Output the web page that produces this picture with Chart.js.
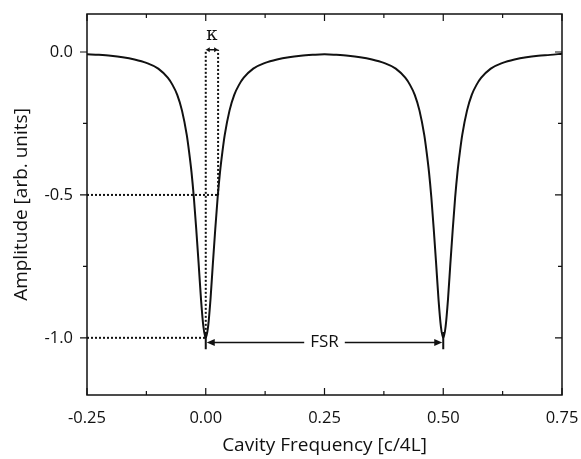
<!DOCTYPE html>
<html>
  <head>
    <title>Cavity Resonances</title>
    <script src="https://cdn.jsdelivr.net/npm/chart.js"></script>
    <style>
      body { margin: 0; background: #fff; }
    </style>
  </head>
  <body>
    <canvas id="cavityChart" width="581" height="459"></canvas>

    <script>
      // curve (frequency in c/4L, amplitude in arb. units)
      const freq = [
        -0.25, -0.225, -0.2, -0.175, -0.15, -0.125, -0.1, -0.08, -0.07, -0.06, -0.05, -0.04, -0.035, -0.03, -0.025, -0.02, -0.015, -0.01, -0.005, 0,
        0.005, 0.01, 0.015, 0.02, 0.025, 0.03, 0.035, 0.04, 0.05, 0.06, 0.07, 0.08, 0.1, 0.125, 0.15, 0.175, 0.2, 0.225, 0.25,
        0.275, 0.3, 0.325, 0.35, 0.375, 0.4, 0.42, 0.43, 0.44, 0.45, 0.46, 0.465, 0.47, 0.475, 0.48, 0.485, 0.49, 0.495, 0.5,
        0.505, 0.51, 0.515, 0.52, 0.525, 0.53, 0.535, 0.54, 0.55, 0.56, 0.57, 0.58, 0.6, 0.625, 0.65, 0.675, 0.7, 0.725, 0.75,
      ];
      const amplitude = [
        -0.008, -0.01, -0.013, -0.018, -0.026, -0.038, -0.058, -0.09, -0.115, -0.15, -0.205, -0.29, -0.35, -0.42, -0.51, -0.62, -0.74, -0.865, -0.96, -1.0,
        -0.96, -0.865, -0.74, -0.62, -0.51, -0.42, -0.35, -0.29, -0.205, -0.15, -0.115, -0.09, -0.058, -0.038, -0.026, -0.018, -0.013, -0.01, -0.008,
        -0.01, -0.013, -0.018, -0.026, -0.038, -0.058, -0.09, -0.115, -0.15, -0.205, -0.29, -0.35, -0.42, -0.51, -0.62, -0.74, -0.865, -0.96, -1.0,
        -0.96, -0.865, -0.74, -0.62, -0.51, -0.42, -0.35, -0.29, -0.205, -0.15, -0.115, -0.09, -0.058, -0.038, -0.026, -0.018, -0.013, -0.01, -0.006,
      ];

      // annotation values
      const dipCenters = [0, 0.5];
      const dipDepth = -1.0;
      const halfMaxLevel = -0.5;
      const kappa = 0.026; // half width at half maximum
      const kappaLevel = 0.008;
      const fsrLevel = -1.016;

      const xTicks = [-0.25, 0, 0.25, 0.5, 0.75];
      const xMinorTicks = [-0.125, 0.125, 0.375, 0.625];
      const yTicks = [-1.0, -0.5, 0.0];
      const yMinorTicks = [-0.75, -0.25];

      const ink = "#111";
      const fontFamily = "'Open Sans', sans-serif";

      const curve = freq.map((f, i) => ({ x: f, y: amplitude[i] }));

      function dotted(points) {
        return {
          data: points,
          showLine: true,
          borderColor: ink,
          borderWidth: 2,
          borderDash: [2, 2],
          pointRadius: 0,
        };
      }

      function arrowHead(ctx, x, y, dir, len, half) {
        ctx.beginPath();
        ctx.moveTo(x, y);
        ctx.lineTo(x - dir * len, y - half);
        ctx.lineTo(x - dir * len, y + half);
        ctx.closePath();
        ctx.fill();
      }

      // labels may hang over the plot edges, the frame stays put
      function noEdgePadding(s) {
        s.paddingLeft = 0;
        s.paddingRight = 0;
        s.paddingTop = 0;
        s.paddingBottom = 0;
      }

      // frame, inward/outward ticks and the kappa / FSR markers
      const annotations = {
        id: "annotations",
        afterDraw(chart) {
          const ctx = chart.ctx;
          const xs = chart.scales.x;
          const ys = chart.scales.y;
          const a = chart.chartArea;
          ctx.save();
          ctx.strokeStyle = ink;
          ctx.fillStyle = ink;

          // frame
          ctx.lineWidth = 1.5;
          ctx.strokeRect(a.left, a.top, a.right - a.left, a.bottom - a.top);

          // ticks
          ctx.lineWidth = 1.2;
          ctx.beginPath();
          xTicks.forEach((v) => {
            const px = xs.getPixelForValue(v);
            ctx.moveTo(px, a.bottom); ctx.lineTo(px, a.bottom - 7);
            ctx.moveTo(px, a.top); ctx.lineTo(px, a.top + 7);
          });
          xMinorTicks.forEach((v) => {
            const px = xs.getPixelForValue(v);
            ctx.moveTo(px, a.bottom); ctx.lineTo(px, a.bottom - 4);
            ctx.moveTo(px, a.top); ctx.lineTo(px, a.top + 4);
          });
          yTicks.forEach((v) => {
            const py = ys.getPixelForValue(v);
            ctx.moveTo(a.left, py); ctx.lineTo(a.left - 7, py);
            ctx.moveTo(a.right, py); ctx.lineTo(a.right - 7, py);
          });
          yMinorTicks.forEach((v) => {
            const py = ys.getPixelForValue(v);
            ctx.moveTo(a.left, py); ctx.lineTo(a.left - 4, py);
            ctx.moveTo(a.right, py); ctx.lineTo(a.right - 4, py);
          });
          ctx.stroke();

          // FSR bracket
          const x0 = xs.getPixelForValue(dipCenters[0]);
          const x1 = xs.getPixelForValue(dipCenters[1]);
          const yf = ys.getPixelForValue(fsrLevel);
          ctx.lineWidth = 2;
          ctx.beginPath();
          [x0, x1].forEach((px) => {
            ctx.moveTo(px, ys.getPixelForValue(dipDepth + 0.02));
            ctx.lineTo(px, ys.getPixelForValue(dipDepth - 0.04));
          });
          ctx.stroke();

          ctx.font = "17px " + fontFamily;
          ctx.textAlign = "center";
          ctx.textBaseline = "middle";
          const mid = (x0 + x1) / 2;
          const gap = ctx.measureText("FSR").width / 2 + 6;
          ctx.fillText("FSR", mid, yf);
          ctx.lineWidth = 1.5;
          ctx.beginPath();
          ctx.moveTo(x0 + 6, yf); ctx.lineTo(mid - gap, yf);
          ctx.moveTo(mid + gap, yf); ctx.lineTo(x1 - 6, yf);
          ctx.stroke();
          arrowHead(ctx, x0 + 1, yf, -1, 8, 3.5);
          arrowHead(ctx, x1 - 1, yf, 1, 8, 3.5);

          // kappa arrow
          const xk = xs.getPixelForValue(kappa);
          const yk = ys.getPixelForValue(kappaLevel);
          ctx.lineWidth = 1.5;
          ctx.beginPath();
          ctx.moveTo(x0 + 3, yk); ctx.lineTo(xk - 3, yk);
          ctx.stroke();
          arrowHead(ctx, x0, yk, -1, 4, 2.5);
          arrowHead(ctx, xk, yk, 1, 4, 2.5);
          ctx.font = "18px 'DejaVu Serif', serif";
          ctx.fillText("\u03ba", (x0 + xk) / 2, yk - 14);
          ctx.restore();
        },
      };

      const ctx = document.getElementById("cavityChart").getContext("2d");
      new Chart(ctx, {
        type: "scatter",
        data: {
          datasets: [
            {
              data: curve,
              showLine: true,
              borderColor: ink,
              borderWidth: 2,
              pointRadius: 0,
              cubicInterpolationMode: "monotone",
            },
            dotted([{ x: -0.25, y: halfMaxLevel }, { x: kappa, y: halfMaxLevel }]),
            dotted([{ x: -0.25, y: dipDepth }, { x: dipCenters[0], y: dipDepth }]),
            dotted([{ x: dipCenters[0], y: dipDepth }, { x: dipCenters[0], y: kappaLevel }]),
            dotted([{ x: kappa, y: halfMaxLevel }, { x: kappa, y: kappaLevel }]),
          ],
        },
        options: {
          responsive: false,
          animation: false,
          layout: { padding: { top: 14, right: 19, left: 0, bottom: 0 } },
          plugins: {
            legend: { display: false },
            tooltip: { enabled: false },
          },
          scales: {
            x: {
              type: "linear",
              min: -0.25,
              max: 0.75,
              afterBuildTicks: (s) => { s.ticks = xTicks.map((v) => ({ value: v })); },
              afterFit: (s) => { s.height = 64; noEdgePadding(s); },
              grid: { display: false, drawTicks: false },
              border: { display: false },
              ticks: {
                color: ink,
                padding: 13,
                maxRotation: 0,
                font: { family: fontFamily, size: 16.5 },
                callback: (v) => Number(v).toFixed(2),
              },
              title: {
                display: true,
                text: "Cavity Frequency [c/4L]",
                color: ink,
                font: { family: fontFamily, size: 19 },
                padding: { top: 4, bottom: 2 },
              },
            },
            y: {
              type: "linear",
              min: -1.2,
              max: 0.133,
              afterBuildTicks: (s) => { s.ticks = yTicks.map((v) => ({ value: v })); },
              afterFit: (s) => { s.width = 87; noEdgePadding(s); },
              grid: { display: false, drawTicks: false },
              border: { display: false },
              ticks: {
                color: ink,
                padding: 14,
                font: { family: fontFamily, size: 16.5 },
                callback: (v) => Number(v).toFixed(1),
              },
              title: {
                display: true,
                text: "Amplitude [arb. units]",
                color: ink,
                font: { family: fontFamily, size: 19 },
                padding: { top: 10, bottom: 4 },
              },
            },
          },
        },
        plugins: [annotations],
      });
    </script>
  </body>
</html>
